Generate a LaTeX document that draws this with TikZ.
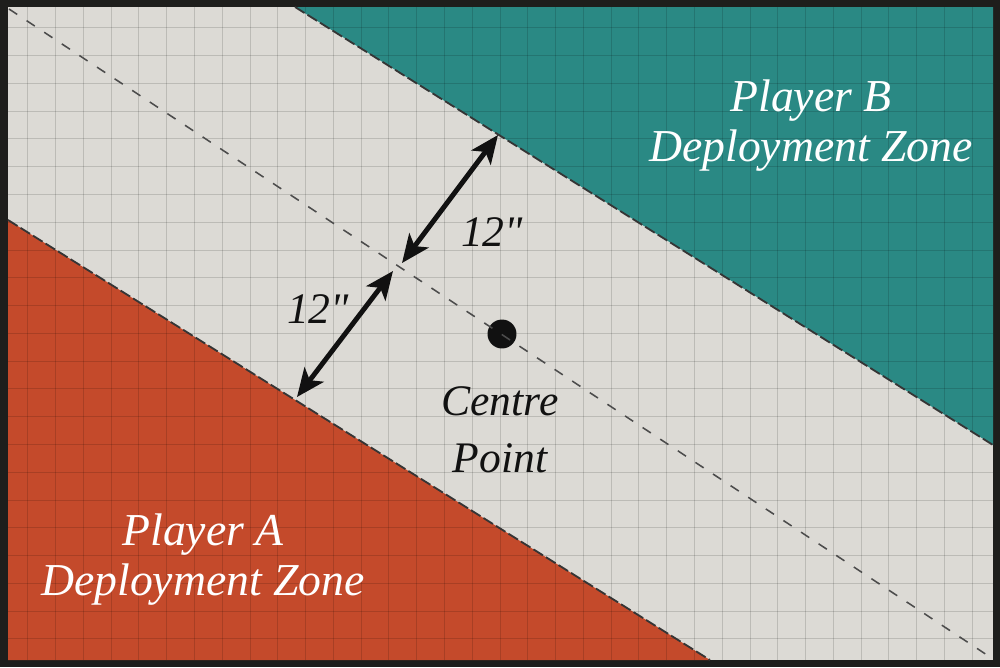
\documentclass[tikz,border=0pt]{standalone}
\usepackage{tikz}
\usepackage{xcolor}
\usepackage{fontspec}
\usetikzlibrary{arrows.meta}
\newfontfamily\mapfont{Liberation Serif}[Ligatures=TeXOff]
\definecolor{frame}{HTML}{1E1E1C}
\definecolor{paper}{HTML}{DCDAD5}
\definecolor{teamb}{HTML}{2A8984}
\definecolor{teama}{HTML}{C44A2B}
\definecolor{ink}{HTML}{111111}

\begin{document}
\begin{tikzpicture}[x=0.025cm, y=-0.025cm,
    zone edge/.style={draw=ink!85, line width=1.3pt, dash pattern=on 8pt off 2.5pt},
    zone label/.style={white, align=center, font=\mapfont\fontsize{32.5}{35.6}\selectfont\itshape},
    map label/.style={ink, align=center, font=\mapfont\fontsize{31}{40.5}\selectfont\itshape},
    measure/.style={ink, line width=3.5pt, {Stealth[length=20pt,width=17pt,inset=5pt]}-{Stealth[length=20pt,width=17pt,inset=5pt]}}]
  \useasboundingbox (0,0) rectangle (1000,667);

  % table and frame
  \fill[frame] (0,0) rectangle (1000,667);
  \fill[paper] (8,7) rectangle (993,660);

  % deployment zones
  \coordinate (bTop)   at (295,7);
  \coordinate (bRight) at (993,445);
  \coordinate (aLeft)  at (8,220);
  \coordinate (aBot)   at (710,660);
  \fill[teamb] (bTop) -- (993,7) -- (bRight) -- cycle;
  \fill[teama] (aLeft) -- (aBot) -- (8,660) -- cycle;

  % grid
  \begin{scope}
    \clip (8,7) rectangle (993,660);
    \foreach \i in {1,...,35}
      \draw[black, opacity=0.14, line width=0.7pt] (\i*27.78,7) -- (\i*27.78,660);
    \foreach \j in {1,...,23}
      \draw[black, opacity=0.14, line width=0.7pt] (8,\j*27.78) -- (993,\j*27.78);
  \end{scope}

  \draw[zone edge] (bTop) -- (bRight);
  \draw[zone edge] (aLeft) -- (aBot);

  % centre point and centre line
  \node[circle, fill=ink, minimum size=20.6pt, inner sep=0pt] (centre) at (502,334) {};
  \coordinate (lineStart) at (9,9);
  \coordinate (lineEnd)   at (987,655);
  \draw[ink!75, line width=1.1pt, dash pattern=on 7pt off 8pt] (lineStart) -- (lineEnd);

  % 12" measures
  \coordinate (edgeB) at (498,135);
  \coordinate (gapB)  at (402,263);
  \coordinate (gapA)  at (393,271);
  \coordinate (edgeA) at (297,397);
  \draw[measure] (edgeB) -- (gapB);
  \draw[measure] (gapA) -- (edgeA);
  \node[map label] (distB) at (492,232) {12"};
  \node[map label] (distA) at (318,309) {12"};

  % labels
  \node[map label] (centreLbl) at (500,430) {Centre\\Point};
  \node[zone label] (zoneB) at (811,126) {Player B\\Deployment Zone};
  \node[zone label] (zoneA) at (203,560) {Player A\\Deployment Zone};
\end{tikzpicture}
\end{document}
